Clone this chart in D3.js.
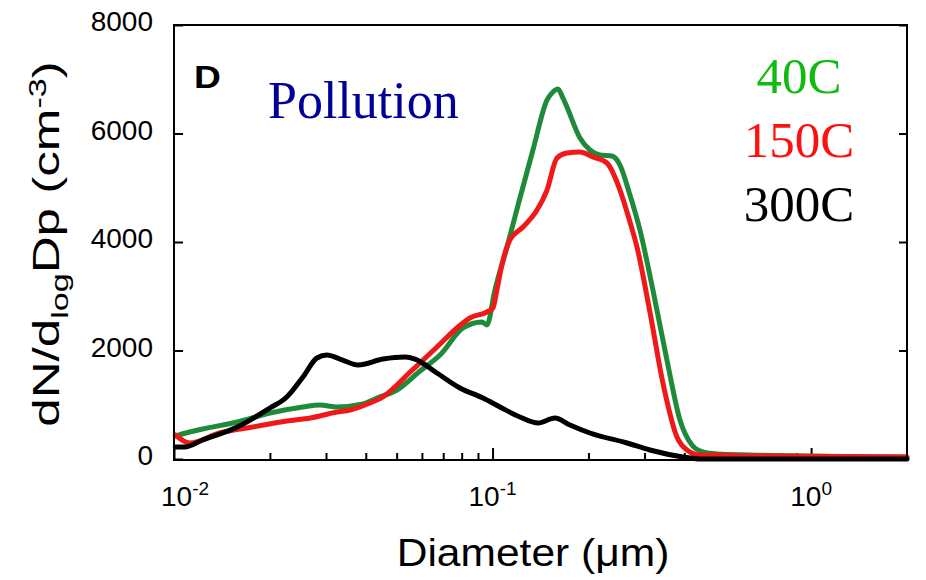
<!DOCTYPE html>
<html>
<head>
<meta charset="utf-8">
<title>Pollution size distribution</title>
<script src="https://cdn.jsdelivr.net/npm/d3@7"></script>
<style>
body { margin: 0; background: #fff; }
.frame { fill: none; stroke: #000; stroke-width: 2px; }
.tick line { stroke: #000; stroke-width: 2px; }
.ticklab { font-family: "Liberation Sans", Arial, sans-serif; font-size: 28px; fill: #000; }
.title { font-family: "Liberation Sans", Arial, sans-serif; font-size: 36px; fill: #000; }
.serif { font-family: "Liberation Serif", "Times New Roman", serif; font-size: 51px; }
path.line { fill: none; stroke-width: 5px; stroke-linejoin: round; stroke-linecap: round; }
</style>
</head>
<body>
<script>

// diameters (um) and dN/dlogDp (cm-3)
var d40 = [0.0101, 0.0112, 0.0123, 0.0158, 0.0200, 0.0254, 0.0287, 0.0325, 0.0392, 0.0434, 0.0501, 0.0592, 0.0684, 0.0808, 0.0926, 0.0960,
           0.1017, 0.1110, 0.1219, 0.1339, 0.1482, 0.1547, 0.1605, 0.1663, 0.1712, 0.1881, 0.2022, 0.2173, 0.2370, 0.2512, 0.2700,
           0.2902, 0.3187, 0.3527, 0.3875, 0.4226, 0.4575, 0.5062, 0.6423, 2.0];
var v40 = [424, 498, 553, 682, 848, 959, 995, 959, 1014, 1124, 1272, 1622, 1917, 2415, 2525, 2470,
           3115, 3908, 4811, 5696, 6617, 6765, 6820, 6654, 6488, 5917, 5696, 5604, 5585, 5419, 4866,
           4221, 3115, 1825, 719, 258, 129, 92, 74, 37];

var d150 = [0.0101, 0.0112, 0.0139, 0.0177, 0.0226, 0.0268, 0.0325, 0.0357, 0.0412, 0.0453, 0.0501, 0.0551, 0.0592, 0.0669, 0.0773,
            0.0849, 0.0960, 0.1003, 0.1032, 0.1070, 0.1134, 0.1246, 0.1379, 0.1482, 0.1593, 0.1712, 0.1881, 0.2066, 0.2286, 0.2512,
            0.2700, 0.2840, 0.3119, 0.3426, 0.3791, 0.4076, 0.4477, 0.5062, 0.6423, 2.0];
var v150 = [442, 295, 479, 590, 700, 756, 866, 903, 1032, 1143, 1364, 1604, 1770, 2064, 2415,
            2599, 2710, 2783, 3115, 3576, 4037, 4276, 4590, 4958, 5548, 5640, 5659, 5567, 5456, 4958,
            4369, 3908, 2710, 1401, 406, 166, 74, 74, 55, 37];

var d300 = [0.0101, 0.0108, 0.0123, 0.0158, 0.0200, 0.0226, 0.0254, 0.0281, 0.0302, 0.0332, 0.0378, 0.0453, 0.0531, 0.0571, 0.0669,
            0.0790, 0.0933, 0.1055, 0.1219, 0.1389, 0.1570, 0.1750, 0.2022, 0.2642, 0.3119, 0.3959, 0.4477, 2.0];
var v300 = [221, 221, 350, 590, 940, 1143, 1512, 1862, 1917, 1843, 1733, 1843, 1880, 1843, 1585,
            1309, 1124, 959, 774, 664, 756, 627, 479, 295, 166, 37, 0, 0];

var series = [
  {name: "40C", d: d40, v: v40, color: "#1e8a3a"},
  {name: "150C", d: d150, v: v150, color: "#f01818"},
  {name: "300C", d: d300, v: v300, color: "#000000"}
];
var legendColors = ["#10bb10", "#ff1010", "#000000"];

var yTicks = [0, 2000, 4000, 6000, 8000];
var xMajor = [0.01, 0.1, 1];
var xLabelExp = ["-2", "-1", "0"];

var width = 926, height = 580;
var pLeft = 174, pRight = 907, pTop = 25, pBottom = 459;

var svg = d3.select("body").append("svg")
    .attr("width", width)
    .attr("height", height);

var x = d3.scaleLog().domain([0.01, 2]).range([pLeft, pRight]);
var y = d3.scaleLinear().domain([0, 8000]).range([pBottom, pTop]);

// minor ticks 2..9 for each decade inside the domain
var xMinor = [];
[0.01, 0.1, 1].forEach(function(dec) {
  for (var k = 2; k <= 9; k++) {
    if (dec * k < 2) xMinor.push(dec * k);
  }
});

svg.append("g")
    .attr("transform", "translate(0," + pBottom + ")")
    .call(d3.axisBottom(x).tickValues(xMinor).tickSize(-6).tickFormat(""))
    .call(function(g) { g.select(".domain").remove(); });
svg.append("g")
    .attr("transform", "translate(0," + pBottom + ")")
    .call(d3.axisBottom(x).tickValues(xMajor).tickSize(-11).tickFormat(""))
    .call(function(g) { g.select(".domain").remove(); });

svg.append("g")
    .attr("transform", "translate(" + pLeft + ",0)")
    .call(d3.axisLeft(y).tickValues(yTicks).tickSize(-9).tickFormat(""))
    .call(function(g) { g.select(".domain").remove(); });
svg.append("g")
    .attr("transform", "translate(" + pRight + ",0)")
    .call(d3.axisRight(y).tickValues(yTicks).tickSize(-8).tickFormat(""))
    .call(function(g) { g.select(".domain").remove(); });

// y tick labels
svg.selectAll(".ylab")
    .data(yTicks)
    .enter().append("text")
    .attr("class", "ticklab")
    .attr("x", 153)
    .attr("y", function(d) { return y(d) + 6; })
    .attr("text-anchor", "end")
    .text(function(d) { return d; });

// x tick labels 10^n
var xl = svg.selectAll(".xlab")
    .data(xMajor)
    .enter().append("text")
    .attr("class", "ticklab")
    .attr("x", function(d) { return x(d) + (d === 0.01 ? 11 : 0); })
    .attr("y", 506)
    .attr("text-anchor", "middle");
xl.append("tspan").text("10");
xl.append("tspan")
    .attr("dy", -11)
    .style("font-size", "19px")
    .text(function(d, i) { return xLabelExp[i]; });

// curves
var line = d3.line()
    .x(function(p) { return x(p[0]); })
    .y(function(p) { return y(p[1]); })
    .curve(d3.curveMonotoneX);

svg.selectAll("path.line")
    .data(series)
    .enter().append("path")
    .attr("class", "line")
    .style("stroke", function(s) { return s.color; })
    .attr("d", function(s) {
      return line(s.d.map(function(dd, i) { return [dd, s.v[i]]; }));
    });

// frame
svg.append("rect")
    .attr("class", "frame")
    .attr("x", pLeft)
    .attr("y", pTop)
    .attr("width", pRight - pLeft)
    .attr("height", pBottom - pTop + 1);

// axis titles (glyphs in the figure are stretched along the text direction)
svg.append("text")
    .attr("class", "title")
    .attr("text-anchor", "middle")
    .attr("transform", "translate(533,566) scale(1.12,1)")
    .style("font-size", "38px")
    .text("Diameter (\u03bcm)");

var yt = svg.append("text")
    .attr("class", "title")
    .attr("text-anchor", "middle")
    .attr("transform", "translate(59,244) rotate(-90) scale(1.42,1)");
yt.append("tspan").text("dN/d");
yt.append("tspan").attr("dy", 9).style("font-size", "24px").text("log");
yt.append("tspan").attr("dy", -9).text("Dp (cm");
yt.append("tspan").attr("dy", -13).style("font-size", "24px").text("-3");
yt.append("tspan").attr("dy", 13).text(")");

// panel letter and label
svg.append("text")
    .attr("transform", "translate(194,88) scale(1.2,1)")
    .style("font-family", "'Liberation Sans', Arial, sans-serif")
    .style("font-weight", "bold")
    .style("font-size", "31px")
    .text("D");

svg.append("text")
    .attr("class", "serif")
    .attr("x", 268)
    .attr("y", 118)
    .style("font-size", "52px")
    .style("fill", "#000099")
    .text("Pollution");

// legend
svg.selectAll(".leg")
    .data(series)
    .enter().append("text")
    .attr("class", "serif")
    .attr("x", 799)
    .attr("y", function(s, i) { return 93 + i * 64; })
    .attr("text-anchor", "middle")
    .style("fill", function(s, i) { return legendColors[i]; })
    .text(function(s) { return s.name; });

</script>
</body>
</html>
